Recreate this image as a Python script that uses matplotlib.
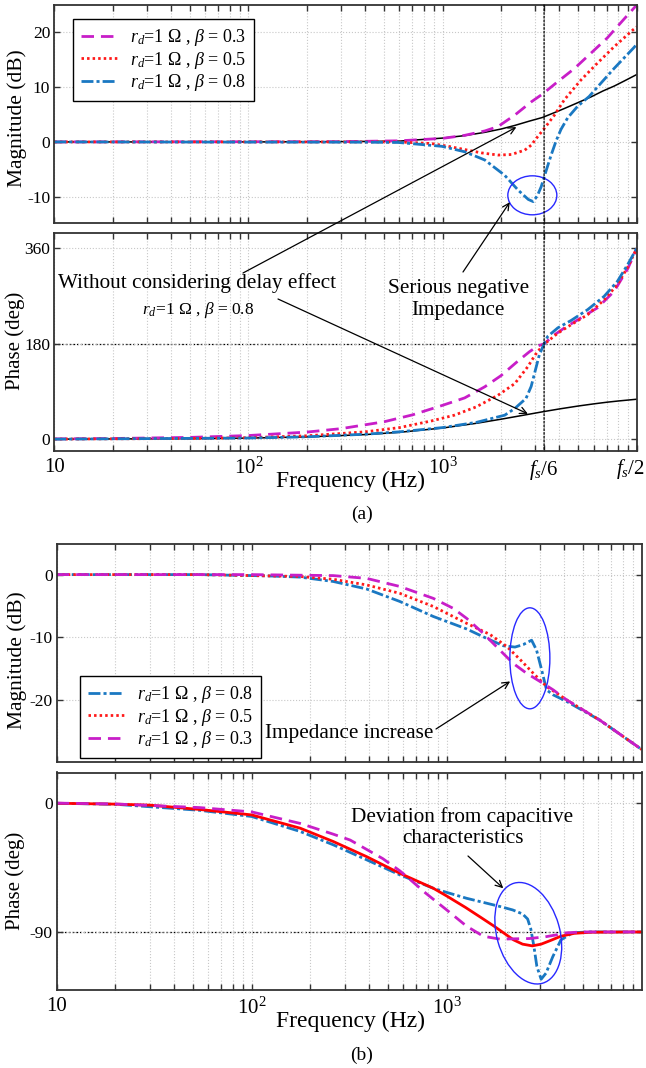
import matplotlib
matplotlib.use('Agg')
import matplotlib.pyplot as plt
from matplotlib.patches import Ellipse, ConnectionPatch
from matplotlib.transforms import ScaledTranslation
from matplotlib.ticker import FixedLocator, NullFormatter

plt.rcParams['font.family'] = ['Liberation Serif', 'DejaVu Serif']
plt.rcParams['mathtext.fontset'] = 'custom'
plt.rcParams['mathtext.rm'] = 'Liberation Serif'
plt.rcParams['mathtext.it'] = 'Liberation Serif:italic'
plt.rcParams['axes.unicode_minus'] = False

FS = 20000.0

# ---------------- (a) impedance with delay ----------------
f_a_ref = [10, 100, 300, 600, 1000, 1300, 1650, 2000, 2350, 2800, 3260, 3800, 4240, 5000, 5800, 6700, 7660, 8600, 10000]
mag_a_ref = [0, 0, 0.05, 0.15, 0.7, 1.15, 1.75, 2.35, 3.0, 3.8, 4.45, 5.4, 6.1, 7.2, 8.2, 9.3, 10.2, 11.1, 12.3]

f_a30_mag = [10, 300, 600, 1000, 1300, 1650, 1930, 2355, 2860, 3260, 3920, 4775, 5810, 7060, 8590, 10000]
mag_a30 = [0, 0.05, 0.2, 0.65, 1.2, 2.0, 2.8, 4.9, 7.3, 8.7, 11.0, 13.4, 16.2, 19.0, 22.4, 25.0]

f_a50_mag = [10, 593, 879, 1070, 1303, 1585, 1930, 2260, 2650, 2860, 3080, 3350, 3770, 4240, 5160, 6280, 7660, 9600, 10000]
mag_a50 = [0, 0, -0.3, -0.8, -1.4, -2.0, -2.4, -2.3, -1.5, -0.6, 0.9, 2.5, 4.9, 7.7, 11.3, 14.4, 17.4, 20.5, 21.0]

f_a80_mag = [10, 400, 593, 990, 1300, 1650, 2090, 2450, 2763, 2930, 3080, 3220, 3420, 3625, 3845,
             4075, 4410, 4960, 5690, 6530, 7640, 9600, 10000]
mag_a80 = [0, -0.05, -0.1, -0.8, -1.8, -3.3, -6.1, -8.8, -10.5, -10.9, -9.8, -8.2, -5.2, -2.4, 0.2,
           2.3, 4.4, 6.5, 8.3, 10.7, 13.4, 17.1, 17.8]

f_a_ref_ph = [10, 50, 100, 200, 400, 600, 1000, 1500, 2000, 2500, 3000, 3333, 4000, 5000, 6000, 7000, 8000, 10000]
ph_a_ref = [0.2, 1.1, 2.2, 4.4, 8.8, 13.1, 21.2, 30.2, 37.8, 44.1, 49.3, 52.3, 57.2, 62.7, 66.7, 69.8, 72.1, 75.5]

f_a30_ph = [10, 20, 50, 100, 200, 300, 500, 700, 1000, 1300, 1650, 2000, 2400, 2800, 3100, 3333,
            3770, 4245, 5165, 6285, 7650, 9000, 10000]
ph_a30 = [0.7, 1.4, 3.5, 7, 13.5, 20, 33, 46, 64, 78, 99, 120, 145, 165, 176, 180,
          197, 210, 229, 248, 279, 322, 360]

f_a50_ph = [10, 50, 100, 200, 400, 600, 880, 1150, 1490, 1930, 2355, 2750, 3010, 3333,
            3480, 3920, 4590, 5590, 6800, 7960, 9000, 10000]
ph_a50 = [0.3, 1.5, 3, 6.5, 14, 22, 34.7, 45.4, 61, 83, 105, 137, 160, 180,
          184.6, 200, 216, 235, 263, 292, 325, 360]

f_a80_ph = [10, 100, 200, 400, 600, 1000, 1500, 2090, 2355, 2690, 2860, 3010, 3150, 3333,
            3480, 3920, 4590, 5590, 6800, 7960, 9000, 10000]
ph_a80 = [0.2, 2.3, 4.6, 9.5, 14, 22, 32, 45.4, 58, 77, 99.6, 131, 159, 180,
          194, 210, 224, 244.5, 269.7, 298, 330, 360]

# ---------------- (b) output impedance ----------------
f_b80_mag = [10, 54, 119, 177, 262, 388, 575, 853, 1265, 1600, 1955, 2240, 2470, 2725, 2890, 3065,
             3250, 3515, 4120, 6100, 9800, 10000]
mag_b80 = [0, 0, -0.2, -0.4, -1.1, -2.3, -4.3, -6.7, -8.7, -10.2, -11.4, -11.6, -11.2, -10.5, -12.1, -15.2,
           -18.45, -19.25, -20.3, -23.3, -27.8, -28.0]

f_b50_mag = [10, 54, 177, 262, 388, 575, 853, 1265, 1670, 2030, 2380, 2780, 3250, 4120, 6100, 9800, 10000]
mag_b50 = [0, 0, -0.3, -0.75, -1.65, -3.0, -5.1, -7.8, -9.6, -11.5, -13.6, -15.8, -17.9, -20.05, -23.3, -27.8, -28.0]

f_b30_mag = [10, 100, 262, 388, 575, 853, 1080, 1265, 1540, 1875, 2190, 2570, 3005, 3515, 4120, 6100, 9800, 10000]
mag_b30 = [0, 0, -0.16, -0.6, -1.9, -3.8, -5.4, -7.0, -9.4, -12.1, -14.2, -15.8, -17.1, -18.45, -20.05, -23.3, -27.8, -28.0]

f_b80_ph = [10, 20, 54, 100, 177, 262, 388, 575, 853, 1000, 1265, 1600, 1900, 2180, 2450, 2600, 2700,
            2800, 2900, 3050, 3230, 3500, 3850, 4430, 5500, 10000]
ph_b80 = [-0.5, -1.2, -5.4, -9.7, -20.1, -29.4, -39.8, -50.3, -59.6, -62.5, -66.6, -70, -72.5, -74.7, -77.5, -81, -88,
          -100, -114, -122.9, -118.7, -107.2, -95.6, -90.5, -90, -90]

f_b50_ph = [10, 20, 30, 54, 100, 177, 262, 388, 575, 853, 1000, 1250, 1500, 1750, 1950, 2200, 2450,
            2750, 3050, 3400, 3850, 4500, 5500, 10000]
ph_b50 = [-0.5, -1.1, -1.8, -4.8, -8.6, -17.8, -27.1, -37.6, -49.2, -59.6, -65, -73, -80, -86, -90.5, -95.5, -98.5,
          -99.7, -98.5, -96, -93, -91, -90.2, -90]

f_b30_ph = [10, 20, 54, 100, 177, 262, 320, 470, 575, 630, 780, 1000, 1265, 1540, 1875, 2200, 2655,
            3200, 3630, 4120, 5000, 10000]
ph_b30 = [-0.4, -1.0, -3.5, -6.5, -14.5, -22, -26.1, -39, -47.5, -52, -63, -74.7, -86, -93, -95, -94.8, -94.6,
          -93.4, -92.1, -90.6, -90, -90]

lbl30 = r'$r_d$=1 Ω , $\beta$ = 0.3'
lbl50 = r'$r_d$=1 Ω , $\beta$ = 0.5'
lbl80 = r'$r_d$=1 Ω , $\beta$ = 0.8'

C30 = '#c81ec8'
C50 = '#ff1a1a'
C80 = '#1a78c2'
LW = 2.0
DASH = (0, (4.5, 2.5))
DOT = (0, (0.9, 1.1))
DASHDOT = (0, (4.3, 1.1, 1.1, 1.1))
EDGE = '#333333'
NOTE = 15.3

minor = [m * 10 ** d for d in (1, 2, 3) for m in range(2, 10)]

W, H = 646, 1068
fig = plt.figure(figsize=(W / 100, H / 100), dpi=100)


def px_axes(left, top, right, bottom):
    return fig.add_axes([left / W, 1 - bottom / H, (right - left) / W, (bottom - top) / H])


def fig_xy(x, y):
    return x / W, 1 - y / H


def style(ax, yticks, ylim, xticks, xlabels, show_x):
    ax.set_xscale('log')
    ax.set_xlim(10, 1e4)
    ax.set_ylim(*ylim)
    ax.set_yticks(yticks)
    ax.set_xticks(xticks)
    ax.set_xticklabels(xlabels)
    ax.xaxis.set_minor_locator(FixedLocator(minor))
    ax.xaxis.set_minor_formatter(NullFormatter())
    ax.grid(True, which='both', axis='x', color='#c8c8c8', ls=':', lw=0.8)
    ax.grid(True, which='major', axis='y', color='#c8c8c8', ls=':', lw=0.8)
    ax.tick_params(which='both', direction='in', top=True, right=True,
                   length=4, width=1, color=EDGE)
    ax.tick_params(axis='y', labelsize=12.5, pad=3)
    ax.tick_params(axis='x', labelsize=15, pad=5, labelbottom=show_x)
    for s in ax.spines.values():
        s.set_color(EDGE)
        s.set_linewidth(1.3)


def ellipse(ax, xc, yc, w_px, h_px, angle=0):
    e = Ellipse((0, 0), w_px / 100, h_px / 100, angle=angle, fill=False,
                edgecolor='#2828ff', lw=1.0, zorder=6,
                transform=fig.dpi_scale_trans + ScaledTranslation(xc, yc, ax.transData))
    ax.add_patch(e)


def legend(ax, anchor):
    leg = ax.legend(loc='upper left', bbox_to_anchor=anchor, borderaxespad=0,
                    fancybox=False, edgecolor='black', framealpha=1, fontsize=13,
                    handlelength=2.0, handletextpad=0.7, labelspacing=0.08, borderpad=0.45)
    leg.get_frame().set_linewidth(1.0)


arrow = dict(arrowstyle='->', color='black', lw=0.9, shrinkA=0, shrinkB=0, mutation_scale=12)

axA1 = px_axes(54.3, 5, 636.7, 222.7)
axA2 = px_axes(54.3, 232.5, 636.7, 450.7)
axB1 = px_axes(56.7, 544, 641.7, 762)
axB2 = px_axes(56.7, 772.5, 641.7, 990.3)

xt_a = [10, 100, 1000, FS / 6, FS / 2]
xl_a = ['10', '$10^2$', '$10^3$', '$f_s$/6', '']
xt_b = [10, 100, 1000]
xl_b = ['10', '$10^2$', '$10^3$']

# (a) magnitude
axA1.plot(f_a_ref, mag_a_ref, color='black', lw=1.1)
axA1.plot(f_a30_mag, mag_a30, color=C30, lw=LW, ls=DASH, label=lbl30)
axA1.plot(f_a50_mag, mag_a50, color=C50, lw=LW, ls=DOT, label=lbl50)
axA1.plot(f_a80_mag, mag_a80, color=C80, lw=LW, ls=DASHDOT, label=lbl80)
style(axA1, [-10, 0, 10, 20], (-14.75, 25), xt_a, xl_a, False)
legend(axA1, (0.0316, 0.936))
ellipse(axA1, 2900, -9.75, 49, 39)

# (a) phase
axA2.plot(f_a_ref_ph, ph_a_ref, color='black', lw=1.1)
axA2.plot(f_a30_ph, ph_a30, color=C30, lw=LW, ls=DASH)
axA2.plot(f_a50_ph, ph_a50, color=C50, lw=LW, ls=DOT)
axA2.plot(f_a80_ph, ph_a80, color=C80, lw=LW, ls=DASHDOT)
style(axA2, [0, 180, 360], (-21.6, 390), xt_a, xl_a, True)
axA2.axhline(180, color='black', ls=(0, (1.5, 1.5)), lw=0.9, zorder=1)
# the fs/2 label sits at the right border, pulled inside the figure
fig.text(*fig_xy(645, 469), '$f_s$/2', fontsize=15, ha='right', va='center')

# fs/6 marker across both (a) panels
fig.add_artist(ConnectionPatch(xyA=(FS / 6, 25), coordsA=axA1.transData,
                               xyB=(FS / 6, -21.6), coordsB=axA2.transData,
                               color='black', ls=(0, (1.5, 1.5)), lw=0.9))

fig.text(*fig_xy(58.3, 283.3), 'Without considering delay effect', fontsize=NOTE, ha='left', va='center')
fig.text(*fig_xy(141.7, 310), r'$r_d$=1 Ω , $\beta$ = 0.8', fontsize=12.5, ha='left', va='center')
fig.text(*fig_xy(458.3, 299.5), 'Serious negative\nImpedance', fontsize=NOTE, ha='center',
         va='center', linespacing=1.2)
axA2.annotate('', xy=(2400, 2.7), xycoords=axA1.transData,
              xytext=fig_xy(243, 273), textcoords='figure fraction', arrowprops=arrow)
axA2.annotate('', xy=(2750, 48), xycoords=axA2.transData,
              xytext=fig_xy(278, 299), textcoords='figure fraction', arrowprops=arrow)
axA2.annotate('', xy=(2220, -11.0), xycoords=axA1.transData,
              xytext=fig_xy(463, 272), textcoords='figure fraction', arrowprops=arrow)

# (b) magnitude
axB1.plot(f_b80_mag, mag_b80, color=C80, lw=LW, ls=DASHDOT, label=lbl80)
axB1.plot(f_b50_mag, mag_b50, color=C50, lw=LW, ls=DOT, label=lbl50)
axB1.plot(f_b30_mag, mag_b30, color=C30, lw=LW, ls=DASH, label=lbl30)
style(axB1, [-20, -10, 0], (-30, 4.9), xt_b, xl_b, False)
legend(axB1, (0.0398, 0.394))
ellipse(axB1, 2670, -13.4, 40, 101)
fig.text(*fig_xy(349, 733.3), 'Impedance increase', fontsize=NOTE, ha='center', va='center')
axB1.annotate('', xy=(2115, -17.1), xycoords='data',
              xytext=fig_xy(436, 729), textcoords='figure fraction', arrowprops=arrow)

# (b) phase
axB2.plot(f_b80_ph, ph_b80, color=C80, lw=LW, ls=DASHDOT)
axB2.plot(f_b50_ph, ph_b50, color='#ff0000', lw=LW)
axB2.plot(f_b30_ph, ph_b30, color=C30, lw=LW, ls=DASH)
style(axB2, [-90, 0], (-130.6, 20.9), xt_b, xl_b, True)
axB2.axhline(-90, color='black', ls=(0, (1.5, 1.5)), lw=0.9, zorder=1)
ellipse(axB2, 2620, -90.9, 63, 104, angle=15.8)
fig.text(*fig_xy(462.5, 827.5), 'Deviation from capacitive\ncharacteristics', fontsize=NOTE,
         ha='center', va='center', linespacing=1.2)
axB2.annotate('', xy=(1950, -59.6), xycoords='data',
              xytext=fig_xy(468, 856), textcoords='figure fraction', arrowprops=arrow)

# axis titles
fig.text(*fig_xy(17, 118), 'Magnitude (dB)', fontsize=15.5, rotation=90, ha='center', va='center')
fig.text(*fig_xy(15.5, 341), 'Phase (deg)', fontsize=15, rotation=90, ha='center', va='center')
fig.text(*fig_xy(17, 660), 'Magnitude (dB)', fontsize=15.5, rotation=90, ha='center', va='center')
fig.text(*fig_xy(15.5, 881), 'Phase (deg)', fontsize=15, rotation=90, ha='center', va='center')
fig.text(*fig_xy(350, 481.7), 'Frequency (Hz)', fontsize=17, ha='center', va='center')
fig.text(*fig_xy(350, 1021.7), 'Frequency (Hz)', fontsize=17, ha='center', va='center')
fig.text(*fig_xy(362, 514), '(a)', fontsize=14, ha='center', va='center')
fig.text(*fig_xy(362, 1055), '(b)', fontsize=14, ha='center', va='center')

fig.savefig('out.png', dpi=100)
